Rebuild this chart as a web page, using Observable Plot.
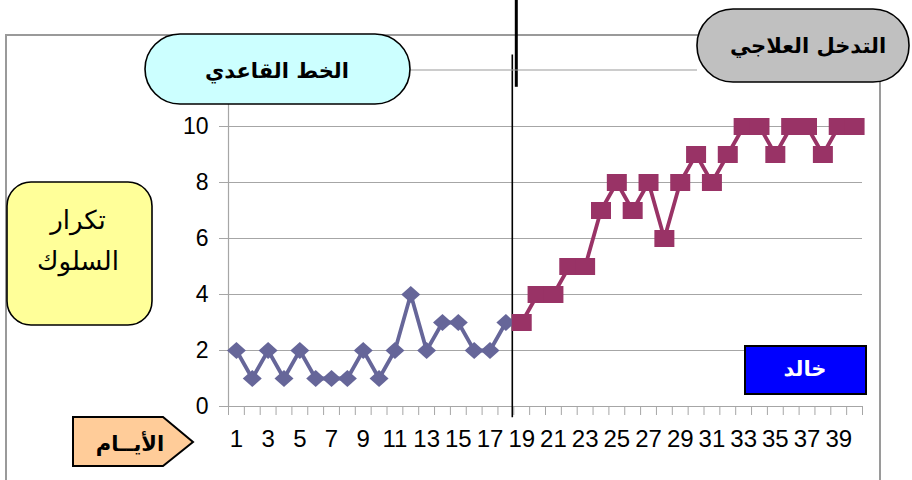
<!DOCTYPE html>
<html>
<head>
<meta charset="utf-8">
<script src="https://cdn.jsdelivr.net/npm/d3@7"></script>
<script src="https://cdn.jsdelivr.net/npm/@observablehq/plot@0.6"></script>
<style>
  html, body { margin: 0; padding: 0; background: #fff; overflow: hidden; }
  #wrap { position: relative; width: 912px; height: 480px; overflow: hidden; background: #fff; }
  #frame { position: absolute; left: 5px; top: 34px; width: 876px; height: 470px; border: 2px solid #9a9a9a; box-sizing: border-box; }
  #chart { position: absolute; left: 0; top: 0; }
  #overlay { position: absolute; left: 0; top: 0; }
  .ar { font-family: "DejaVu Sans", sans-serif; }
</style>
</head>
<body>
<div id="wrap">
  <div id="frame"></div>
  <div id="chart"></div>
  <svg id="overlay" width="912" height="480">
    <line x1="410" y1="70" x2="697" y2="70" stroke="#9a9a9a" stroke-width="1.2"/>
    <rect x="145" y="34" width="265" height="70" rx="35" ry="35" fill="#CCFFFF" stroke="#000" stroke-width="1.6"/>
    <text class="ar" x="277" y="72" text-anchor="middle" dominant-baseline="middle" font-weight="bold" font-size="21" direction="rtl">الخط القاعدي</text>
    <rect x="697" y="9" width="212" height="73" rx="36" ry="36" fill="#C0C0C0" stroke="#000" stroke-width="1.6"/>
    <text class="ar" x="808" y="47" text-anchor="middle" dominant-baseline="middle" font-weight="bold" font-size="21" direction="rtl">التدخل العلاجي</text>
    <rect x="7" y="182" width="145" height="143" rx="24" ry="24" fill="#FFFF99" stroke="#000" stroke-width="1.6"/>
    <text class="ar" x="78" y="221" text-anchor="middle" dominant-baseline="middle" font-size="26" direction="rtl">تكرار</text>
    <text class="ar" x="78" y="262" text-anchor="middle" dominant-baseline="middle" font-size="26" direction="rtl">السلوك</text>
    <polygon points="73,417 163,417 193,442 163,466 73,466" fill="#FFCC99" stroke="#000" stroke-width="2"/>
    <text class="ar" x="130" y="445" text-anchor="middle" dominant-baseline="middle" font-weight="bold" font-size="21" direction="rtl">الأيــام</text>
    <rect x="745" y="346" width="121" height="48" fill="#0000FF" stroke="#000" stroke-width="2"/>
    <text class="ar" x="805" y="370" text-anchor="middle" dominant-baseline="middle" font-weight="bold" font-size="21" fill="#fff" direction="rtl">خالد</text>
  </svg>
</div>
<script>
const baselineDays = [1,2,3,4,5,6,7,8,9,10,11,12,13,14,15,16,17,18];
const baselineValues = [2,1,2,1,2,1,1,1,2,1,2,4,2,3,3,2,2,3];
const treatmentDays = [19,20,21,22,23,24,25,26,27,28,29,30,31,32,33,34,35,36,37,38,39,40];
const treatmentValues = [3,4,4,5,5,7,8,7,8,6,8,9,8,9,10,10,9,10,10,9,10,10];
const xTickLabels = [1,3,5,7,9,11,13,15,17,19,21,23,25,27,29,31,33,35,37,39];
const yTickLabels = [0,2,4,6,8,10];
const categoryEdges = [0.5,1.5,2.5,3.5,4.5,5.5,6.5,7.5,8.5,9.5,10.5,11.5,12.5,13.5,14.5,15.5,16.5,17.5,18.5,19.5,20.5,21.5,22.5,23.5,24.5,25.5,26.5,27.5,28.5,29.5,30.5,31.5,32.5,33.5,34.5,35.5,36.5,37.5,38.5,39.5,40.5];
const phaseChange = [18.5];

const baseline = baselineDays.map((d, i) => ({day: d, value: baselineValues[i]}));
const treatment = treatmentDays.map((d, i) => ({day: d, value: treatmentValues[i]}));

const diamond = {draw(ctx) { ctx.moveTo(0, -8.5); ctx.lineTo(9.5, 0); ctx.lineTo(0, 8.5); ctx.lineTo(-9.5, 0); ctx.closePath(); }};
const square = {draw(ctx) { ctx.moveTo(-10, -8.5); ctx.lineTo(10, -8.5); ctx.lineTo(10, 8.5); ctx.lineTo(-10, 8.5); ctx.closePath(); }};

const grid = "#a6a6a6";
const chart = Plot.plot({
  width: 912,
  height: 480,
  marginLeft: 228,
  marginRight: 50,
  marginTop: 126,
  marginBottom: 74,
  style: {fontFamily: "'Liberation Sans', Arial, sans-serif", fontSize: "23px", color: "#000", background: "transparent", overflow: "visible"},
  x: {domain: [0.5, 40.5], axis: null},
  y: {domain: [0, 10], axis: null},
  marks: [
    Plot.ruleY(yTickLabels, {stroke: grid, strokeWidth: 1.2}),
    Plot.ruleX([0.5], {y1: 0, y2: 10.8, stroke: grid, strokeWidth: 1.2}),
    Plot.axisY({ticks: yTickLabels, tickSize: 9, tickPadding: 11, stroke: grid, fontSize: 23, label: null}),
    Plot.axisX({ticks: categoryEdges, tickSize: 9, tickFormat: () => "", stroke: grid, label: null}),
    Plot.axisX({ticks: xTickLabels, tickSize: 0, tickPadding: 23, fontSize: 24, label: null}),
    Plot.ruleX(phaseChange, {y1: -0.4, y2: 12.55, stroke: "#000", strokeWidth: 1.6, dx: -1.5}),
    Plot.ruleX(phaseChange, {y1: 11.4, y2: 14.6, stroke: "#000", strokeWidth: 3, dx: 2.5}),
    Plot.line(baseline, {x: "day", y: "value", stroke: "#666699", strokeWidth: 3.8}),
    Plot.dot(baseline, {x: "day", y: "value", symbol: diamond, fill: "#666699", stroke: "none"}),
    Plot.line(treatment, {x: "day", y: "value", stroke: "#993366", strokeWidth: 3.8}),
    Plot.dot(treatment, {x: "day", y: "value", symbol: square, fill: "#993366", stroke: "none"})
  ]
});
document.getElementById("chart").appendChild(chart);
</script>
</body>
</html>
